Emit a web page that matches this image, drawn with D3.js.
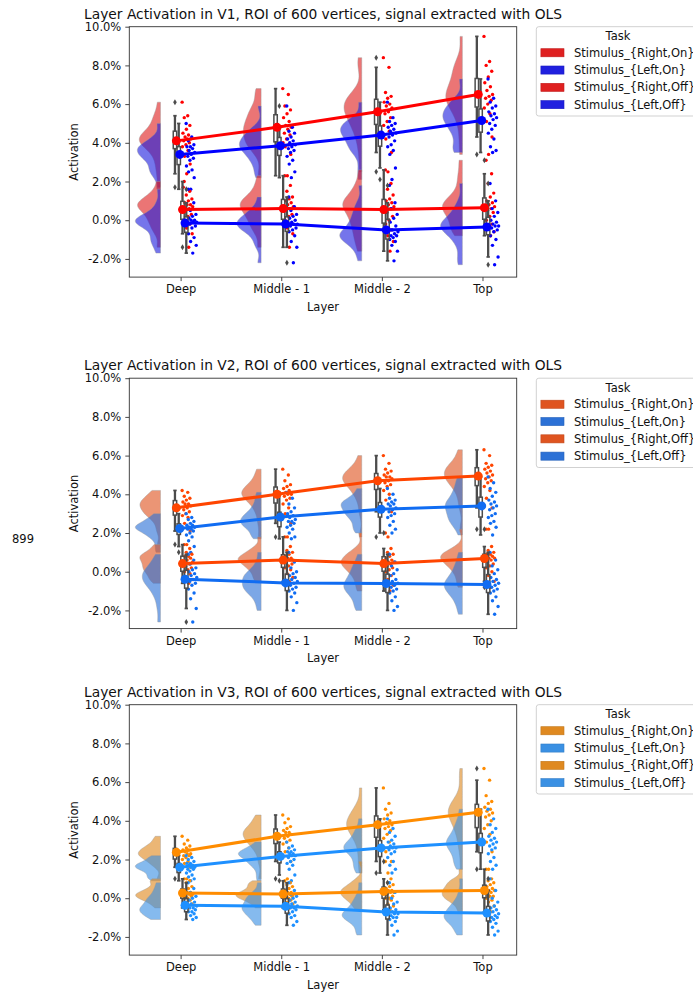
<!DOCTYPE html>
<html>
<head>
<meta charset="utf-8">
<script src="https://cdn.jsdelivr.net/npm/d3@7"></script>
<style>
  body { margin: 0; background: #fff; }
  svg text { font-family: "DejaVu Sans", sans-serif; fill: #111; }
</style>
</head>
<body>
<svg id="chart" width="693" height="994"></svg>
<script>
const layers = ["Deep", "Middle - 1", "Middle - 2", "Top"];
const tasks = ["Stimulus_{Right,On}", "Stimulus_{Left,On}", "Stimulus_{Right,Off}", "Stimulus_{Left,Off}"];
const yTicks = [-2, 0, 2, 4, 6, 8, 10];
const areas = ["V1", "V2", "V3"];

// pointplot means, one row per task, one value per layer
const v1Means = [[4.1, 4.8, 5.6, 6.5], [3.4, 3.85, 4.4, 5.15], [0.55, 0.6, 0.55, 0.65], [-0.15, -0.2, -0.5, -0.35]];
const v2Means = [[3.3, 4.0, 4.7, 4.94], [2.23, 2.83, 3.23, 3.4], [0.42, 0.6, 0.42, 0.68], [-0.39, -0.58, -0.61, -0.66]];
const v3Means = [[2.37, 3.2, 3.8, 4.44], [1.6, 2.16, 2.6, 2.9], [0.27, 0.22, 0.35, 0.4], [-0.37, -0.42, -0.71, -0.77]];

// strip values (%), [Deep, Middle-1, Middle-2, Top]
const v1RightOn = [
  [6.1, 5.4, 5.3, 4.9, 4.7, 4.5, 4.4, 4.3, 4.2, 4.2, 4.1, 4.0, 3.9, 3.8, 3.6, 3.3, 2.9, 2.4, 1.7],
  [6.8, 6.5, 5.9, 5.7, 5.5, 5.3, 5.1, 4.9, 4.8, 4.7, 4.5, 4.4, 4.2, 4.0, 3.9, 3.8, 3.4, 2.3],
  [8.4, 7.9, 6.6, 6.4, 6.3, 6.1, 6.0, 5.9, 5.8, 5.6, 5.5, 5.3, 5.1, 4.9, 4.6, 4.2, 3.5, 2.5],
  [9.5, 8.2, 8.0, 7.7, 7.4, 7.1, 6.9, 6.7, 6.5, 6.4, 6.3, 6.2, 6.0, 5.8, 5.5, 5.1, 4.3, 3.4]
];
const v1LeftOn = [
  [5.0, 4.3, 4.1, 3.9, 3.8, 3.8, 3.7, 3.6, 3.5, 3.4, 3.3, 3.2, 3.1, 2.8, 2.6, 2.5, 2.2, 1.6],
  [5.9, 4.8, 4.6, 4.5, 4.3, 4.2, 4.1, 4.0, 3.9, 3.8, 3.7, 3.6, 3.5, 3.3, 3.1, 2.9, 2.5, 2.2],
  [6.1, 5.3, 5.1, 5.0, 4.9, 4.8, 4.7, 4.6, 4.5, 4.4, 4.3, 4.1, 3.9, 3.8, 3.6, 3.4, 2.7, 2.1],
  [7.3, 6.3, 6.1, 5.9, 5.8, 5.6, 5.5, 5.4, 5.3, 5.2, 5.0, 4.9, 4.7, 4.5, 4.2, 3.8, 3.6, 3.5]
];
const v1RightOff = [
  [2.0, 1.5, 1.3, 1.1, 1.0, 0.9, 0.8, 0.8, 0.7, 0.6, 0.5, 0.3, 0.2, 0.0, -0.2, -0.4, -0.7, -1.4],
  [2.3, 1.8, 1.5, 1.2, 1.1, 1.0, 0.9, 0.8, 0.7, 0.6, 0.5, 0.3, 0.2, 0.0, -0.2, -0.4, -0.7, -1.4],
  [2.6, 1.9, 1.6, 1.3, 1.1, 1.0, 0.9, 0.8, 0.7, 0.6, 0.4, 0.2, 0.0, -0.2, -0.5, -0.8, -1.1, -1.6],
  [3.1, 2.4, 1.9, 1.4, 1.2, 1.0, 0.9, 0.8, 0.7, 0.6, 0.5, 0.4, 0.2, 0.0, -0.2, -0.4, -0.6, -0.8]
];
const v1LeftOff = [
  [1.6, 0.9, 0.5, 0.3, 0.2, 0.1, 0.0, 0.0, -0.1, -0.1, -0.2, -0.3, -0.4, -0.7, -0.9, -1.1, -1.3, -1.7],
  [1.2, 0.7, 0.5, 0.3, 0.2, 0.1, 0.0, -0.1, -0.2, -0.2, -0.3, -0.4, -0.5, -0.6, -0.8, -1.1, -1.4, -2.2],
  [1.8, 0.9, 0.6, 0.3, 0.1, -0.1, -0.3, -0.5, -0.6, -0.7, -0.8, -0.8, -0.9, -1.0, -1.1, -1.3, -1.6, -2.1],
  [1.9, 1.0, 0.6, 0.4, 0.2, 0.0, -0.1, -0.2, -0.3, -0.3, -0.4, -0.5, -0.6, -0.8, -1.0, -1.3, -1.9, -2.3]
];

const v2RightOn = [
  [4.2, 4.1, 3.9, 3.8, 3.7, 3.6, 3.5, 3.5, 3.4, 3.3, 3.2, 3.1, 3.0, 2.9, 2.8, 2.5, 2.1, 1.4],
  [5.3, 5.0, 4.7, 4.5, 4.4, 4.3, 4.2, 4.1, 4.0, 4.0, 3.9, 3.8, 3.7, 3.5, 3.3, 3.0, 2.5, 1.8],
  [6.0, 5.6, 5.3, 5.2, 5.1, 5.0, 4.9, 4.9, 4.8, 4.7, 4.6, 4.5, 4.4, 4.2, 4.0, 3.7, 3.1, 1.8],
  [6.3, 6.0, 5.6, 5.5, 5.4, 5.3, 5.2, 5.1, 5.0, 4.9, 4.8, 4.7, 4.6, 4.4, 4.2, 3.8, 3.3, 2.2]
];
const v2LeftOn = [
  [3.0, 2.8, 2.7, 2.6, 2.5, 2.4, 2.4, 2.3, 2.3, 2.2, 2.2, 2.1, 2.0, 1.9, 1.8, 1.6, 1.3, 1.0],
  [4.1, 3.8, 3.5, 3.3, 3.1, 3.0, 2.9, 2.8, 2.7, 2.6, 2.6, 2.5, 2.4, 2.3, 2.2, 2.0, 1.8, 1.7],
  [4.3, 4.0, 3.8, 3.7, 3.6, 3.5, 3.5, 3.4, 3.3, 3.2, 3.1, 3.0, 2.9, 2.8, 2.6, 2.4, 2.2, 2.0],
  [4.9, 4.6, 4.3, 4.1, 3.9, 3.7, 3.6, 3.5, 3.4, 3.3, 3.2, 3.0, 2.9, 2.8, 2.6, 2.5, 2.3, 1.9]
];
const v2RightOff = [
  [1.4, 1.2, 1.0, 0.9, 0.8, 0.8, 0.7, 0.6, 0.5, 0.4, 0.3, 0.2, 0.1, 0.0, -0.1, -0.3, -0.4, -0.6],
  [1.8, 1.3, 1.1, 1.0, 0.9, 0.8, 0.7, 0.7, 0.6, 0.6, 0.5, 0.4, 0.3, 0.2, 0.1, -0.1, -0.3, -0.5],
  [2.0, 1.2, 1.0, 0.9, 0.8, 0.7, 0.6, 0.5, 0.5, 0.4, 0.3, 0.2, 0.1, 0.0, -0.2, -0.4, -0.7, -1.0],
  [2.2, 1.3, 1.1, 1.0, 0.9, 0.9, 0.8, 0.7, 0.7, 0.6, 0.5, 0.4, 0.3, 0.2, 0.0, -0.2, -0.5, -0.8]
];
const v2LeftOff = [
  [0.9, 0.6, 0.4, 0.2, 0.1, 0.0, -0.1, -0.2, -0.3, -0.4, -0.5, -0.6, -0.7, -0.9, -1.1, -1.4, -1.9, -2.6],
  [1.0, 0.5, 0.2, 0.0, -0.1, -0.2, -0.3, -0.4, -0.5, -0.6, -0.7, -0.8, -0.9, -1.0, -1.1, -1.3, -1.6, -2.0],
  [0.9, 0.5, 0.3, 0.1, -0.1, -0.2, -0.4, -0.5, -0.6, -0.7, -0.8, -0.9, -1.0, -1.1, -1.3, -1.5, -1.8, -2.0],
  [1.0, 0.6, 0.3, 0.1, -0.1, -0.3, -0.4, -0.5, -0.6, -0.7, -0.8, -0.9, -1.0, -1.1, -1.3, -1.5, -1.8, -2.2]
];

const v3RightOn = [
  [3.2, 3.0, 2.8, 2.7, 2.6, 2.5, 2.5, 2.4, 2.3, 2.3, 2.2, 2.2, 2.1, 2.0, 1.9, 1.8, 1.6, 1.0],
  [4.3, 4.1, 3.9, 3.7, 3.6, 3.5, 3.4, 3.4, 3.3, 3.2, 3.1, 3.0, 2.9, 2.8, 2.6, 2.4, 1.9, 1.0],
  [5.7, 4.9, 4.6, 4.4, 4.3, 4.1, 4.0, 3.9, 3.8, 3.7, 3.6, 3.5, 3.3, 3.1, 2.9, 2.4, 1.9, 1.3],
  [6.7, 6.1, 5.3, 5.0, 4.9, 4.7, 4.6, 4.5, 4.4, 4.3, 4.2, 4.0, 3.8, 3.6, 3.3, 2.9, 2.4, 1.5]
];
const v3LeftOn = [
  [2.2, 2.1, 2.0, 1.9, 1.8, 1.8, 1.7, 1.7, 1.6, 1.6, 1.5, 1.5, 1.4, 1.3, 1.2, 1.1, 1.0, 0.9],
  [2.9, 2.7, 2.6, 2.5, 2.4, 2.4, 2.3, 2.3, 2.2, 2.2, 2.1, 2.0, 1.9, 1.8, 1.7, 1.5, 1.2, 0.9],
  [4.1, 3.6, 3.4, 3.2, 3.0, 2.9, 2.8, 2.7, 2.6, 2.6, 2.5, 2.4, 2.3, 2.1, 1.9, 1.7, 1.5, 1.3],
  [4.6, 4.1, 3.8, 3.6, 3.4, 3.2, 3.1, 3.0, 2.9, 2.8, 2.7, 2.6, 2.5, 2.3, 2.1, 1.9, 1.7, 1.5]
];
const v3RightOff = [
  [1.0, 0.9, 0.8, 0.6, 0.5, 0.4, 0.3, 0.3, 0.2, 0.2, 0.1, 0.1, 0.0, 0.0, -0.1, -0.2, -0.3, -0.5],
  [0.9, 0.8, 0.7, 0.6, 0.5, 0.4, 0.3, 0.3, 0.2, 0.2, 0.1, 0.1, 0.0, 0.0, -0.1, -0.2, -0.3, -0.5],
  [1.9, 1.0, 0.8, 0.7, 0.6, 0.5, 0.4, 0.4, 0.3, 0.3, 0.2, 0.1, 0.0, 0.0, -0.1, -0.3, -0.4, -0.6],
  [1.5, 1.0, 0.9, 0.8, 0.7, 0.6, 0.5, 0.4, 0.4, 0.3, 0.2, 0.1, 0.1, 0.0, -0.1, -0.2, -0.4, -0.7]
];
const v3LeftOff = [
  [0.8, 0.5, 0.3, 0.1, 0.0, -0.1, -0.2, -0.3, -0.4, -0.5, -0.5, -0.6, -0.7, -0.7, -0.8, -0.9, -1.0, -1.1],
  [0.8, 0.4, 0.2, 0.1, 0.0, -0.1, -0.2, -0.3, -0.4, -0.5, -0.5, -0.6, -0.7, -0.8, -0.9, -1.0, -1.2, -1.4],
  [0.8, 0.3, 0.0, -0.2, -0.3, -0.5, -0.6, -0.7, -0.8, -0.8, -0.9, -1.0, -1.0, -1.1, -1.2, -1.4, -1.7, -1.9],
  [1.0, 0.4, 0.0, -0.2, -0.4, -0.5, -0.6, -0.7, -0.8, -0.9, -1.0, -1.0, -1.1, -1.2, -1.3, -1.5, -1.7, -1.9]
];

const v1Colors = ["#ff0000", "#0000ff", "#ff0000", "#0000ff"];
const v2Colors = ["#ff4500", "#106cf2", "#ff4500", "#106cf2"];
const v3Colors = ["#ff8c00", "#1e90ff", "#ff8c00", "#1e90ff"];

const svg = d3.select("#chart");
const x = d3.scaleLinear().domain([-0.51, 3.34]).range([129.3, 516.7]);
const unit = x(1) - x(0);
const panelTops = [26.7, 378.2, 704.7];
const panelH = 250.4;
const boxOff = [-0.05625, -0.01875, 0.01875, 0.05625];
const pointOff = [-0.042, -0.008, 0.019, 0.044];
const stripOff = [0.06, 0.1, 0.08, 0.12];
const gray = "#4c4c4c";

function desat(c) {
  const h = d3.hsl(c);
  h.s *= 0.75;
  return h.formatHex();
}

// gaussian kde, cut at the data range
function kde(vals) {
  const h = 0.35 * d3.deviation(vals);
  const lo = d3.min(vals), hi = d3.max(vals);
  const pts = d3.range(61).map(i => {
    const t = lo + (hi - lo) * i / 60;
    const d = d3.mean(vals, v => Math.exp(-0.5 * ((t - v) / h) ** 2)) / (h * Math.sqrt(2 * Math.PI));
    return [t, d];
  });
  return { pts, peak: d3.max(pts, p => p[1]) };
}

function boxStats(vals) {
  const s = vals.slice().sort(d3.ascending);
  const q1 = d3.quantile(s, 0.25), med = d3.quantile(s, 0.5), q3 = d3.quantile(s, 0.75);
  const iqr = q3 - q1;
  const ok = v => v >= q1 - 1.5 * iqr && v <= q3 + 1.5 * iqr;
  const inside = s.filter(ok);
  return { q1, med, q3, lo: d3.min(inside), hi: d3.max(inside), out: s.filter(v => !ok(v)) };
}

function drawPanel(k, data, means, colors) {
  const top = panelTops[k];
  const y = d3.scaleLinear().domain([-2.94, 10]).range([top + panelH, top]);
  const g = svg.append("g");
  const light = colors.map(desat);

  // clouds
  const dens = data.map(task => task.map(kde));
  const peakAll = d3.max(dens.flat(), d => d.peak);
  const maxW = 0.25 * unit;
  data.forEach((task, t) => task.forEach((vals, l) => {
    const kd = dens[t][l];
    const x0 = x(l - 0.2);
    const wf = maxW * Math.pow(kd.peak / peakAll, 0.6) / kd.peak;
    const cloud = d3.area().y(p => y(p[0])).x0(x0).x1(p => x0 - p[1] * wf);
    g.append("path").attr("d", cloud(kd.pts))
      .attr("fill", light[t]).attr("fill-opacity", 0.62)
      .attr("stroke", "#999").attr("stroke-width", 0.8).attr("stroke-opacity", 0.5);
  }));

  // rain
  data.forEach((task, t) => task.forEach((vals, l) => {
    g.selectAll(null).data(vals).join("circle")
      .attr("cx", (v, i) => x(l + stripOff[t] + ((i * 0.618034) % 1 - 0.5) * 0.09))
      .attr("cy", v => y(v))
      .attr("r", 1.7)
      .attr("fill", colors[t]);
  }));

  // boxes
  const bw = 0.0375 * unit * 0.9;
  data.forEach((task, t) => task.forEach((vals, l) => {
    const b = boxStats(vals);
    const cx = x(l + boxOff[t]);
    const bg = g.append("g").attr("stroke", gray).attr("fill", "none");
    bg.append("line").attr("x1", cx).attr("x2", cx).attr("y1", y(b.hi)).attr("y2", y(b.q3)).attr("stroke-width", 2.3);
    bg.append("line").attr("x1", cx).attr("x2", cx).attr("y1", y(b.q1)).attr("y2", y(b.lo)).attr("stroke-width", 2.3);
    [b.hi, b.lo].forEach(v => bg.append("line")
      .attr("x1", cx - bw / 2).attr("x2", cx + bw / 2).attr("y1", y(v)).attr("y2", y(v)).attr("stroke-width", 1.7));
    bg.append("rect").attr("x", cx - bw / 2).attr("width", bw)
      .attr("y", y(b.q3)).attr("height", y(b.q1) - y(b.q3)).attr("stroke-width", 1.5);
    bg.append("line").attr("x1", cx - bw / 2).attr("x2", cx + bw / 2).attr("y1", y(b.med)).attr("y2", y(b.med)).attr("stroke-width", 1.5);
    b.out.forEach(v => g.append("path")
      .attr("d", `M${cx},${y(v) - 3}L${cx + 1.8},${y(v)}L${cx},${y(v) + 3}L${cx - 1.8},${y(v)}Z`)
      .attr("fill", gray));
  }));

  // means
  means.forEach((row, t) => {
    const pts = row.map((m, l) => [x(l + pointOff[t]), y(m)]);
    g.append("path").attr("d", d3.line()(pts))
      .attr("fill", "none").attr("stroke", colors[t]).attr("stroke-width", 3);
    g.selectAll(null).data(pts).join("circle")
      .attr("cx", p => p[0]).attr("cy", p => p[1]).attr("r", 4.5).attr("fill", colors[t]);
  });

  // frame and axes
  g.append("rect").attr("x", x.range()[0]).attr("y", top)
    .attr("width", x.range()[1] - x.range()[0]).attr("height", panelH)
    .attr("fill", "none").attr("stroke", "#333").attr("stroke-width", 0.9);

  const yAxis = g.append("g").attr("transform", `translate(${x.range()[0]},0)`)
    .call(d3.axisLeft(y).tickValues(yTicks).tickSize(4).tickPadding(4).tickFormat(d => d.toFixed(1) + "%"));
  const xAxis = g.append("g").attr("transform", `translate(0,${top + panelH})`)
    .call(d3.axisBottom(x).tickValues([0, 1, 2, 3]).tickSize(4).tickPadding(4).tickFormat(i => layers[i]));
  [yAxis, xAxis].forEach(a => {
    a.select(".domain").remove();
    a.selectAll(".tick line").attr("stroke", "#333").attr("stroke-width", 0.9);
    a.selectAll(".tick text").attr("font-size", 11.5).attr("fill", "#111")
      .attr("font-family", "DejaVu Sans, sans-serif");
  });

  g.append("text").attr("x", (x.range()[0] + x.range()[1]) / 2).attr("y", top - 8)
    .attr("text-anchor", "middle").attr("font-size", 13.8)
    .text(`Layer Activation in ${areas[k]}, ROI of 600 vertices, signal extracted with OLS`);
  g.append("text").attr("x", (x.range()[0] + x.range()[1]) / 2).attr("y", top + 283.8)
    .attr("text-anchor", "middle").attr("font-size", 11.5).text("Layer");
  g.append("text").attr("transform", `translate(78,${top + panelH / 2}) rotate(-90)`)
    .attr("text-anchor", "middle").attr("font-size", 11.5).text("Activation");

  // legend
  const lg = g.append("g").attr("transform", `translate(536.3,${top})`);
  lg.append("rect").attr("width", 163.4).attr("height", 89.3).attr("rx", 2.5)
    .attr("fill", "#fff").attr("fill-opacity", 0.8).attr("stroke", "#ccc").attr("stroke-width", 0.9);
  lg.append("text").attr("x", 81.7).attr("y", 13.6).attr("text-anchor", "middle")
    .attr("font-size", 11.5).text("Task");
  tasks.forEach((name, t) => {
    const cy = 26 + t * 17.3;
    lg.append("rect").attr("x", 4.6).attr("y", cy - 4).attr("width", 23.1).attr("height", 8.1)
      .attr("fill", light[t]).attr("stroke", d3.color(light[t]).darker(0.4)).attr("stroke-width", 0.6);
    lg.append("text").attr("x", 37.7).attr("y", cy + 4.2).attr("font-size", 11.5).text(name);
  });
}

drawPanel(0, [v1RightOn, v1LeftOn, v1RightOff, v1LeftOff], v1Means, v1Colors);
drawPanel(1, [v2RightOn, v2LeftOn, v2RightOff, v2LeftOff], v2Means, v2Colors);
drawPanel(2, [v3RightOn, v3LeftOn, v3RightOff, v3LeftOff], v3Means, v3Colors);

svg.append("text").attr("x", 12).attr("y", 543).attr("font-size", 11.5).attr("fill", "#222").text("899");
</script>
</body>
</html>
